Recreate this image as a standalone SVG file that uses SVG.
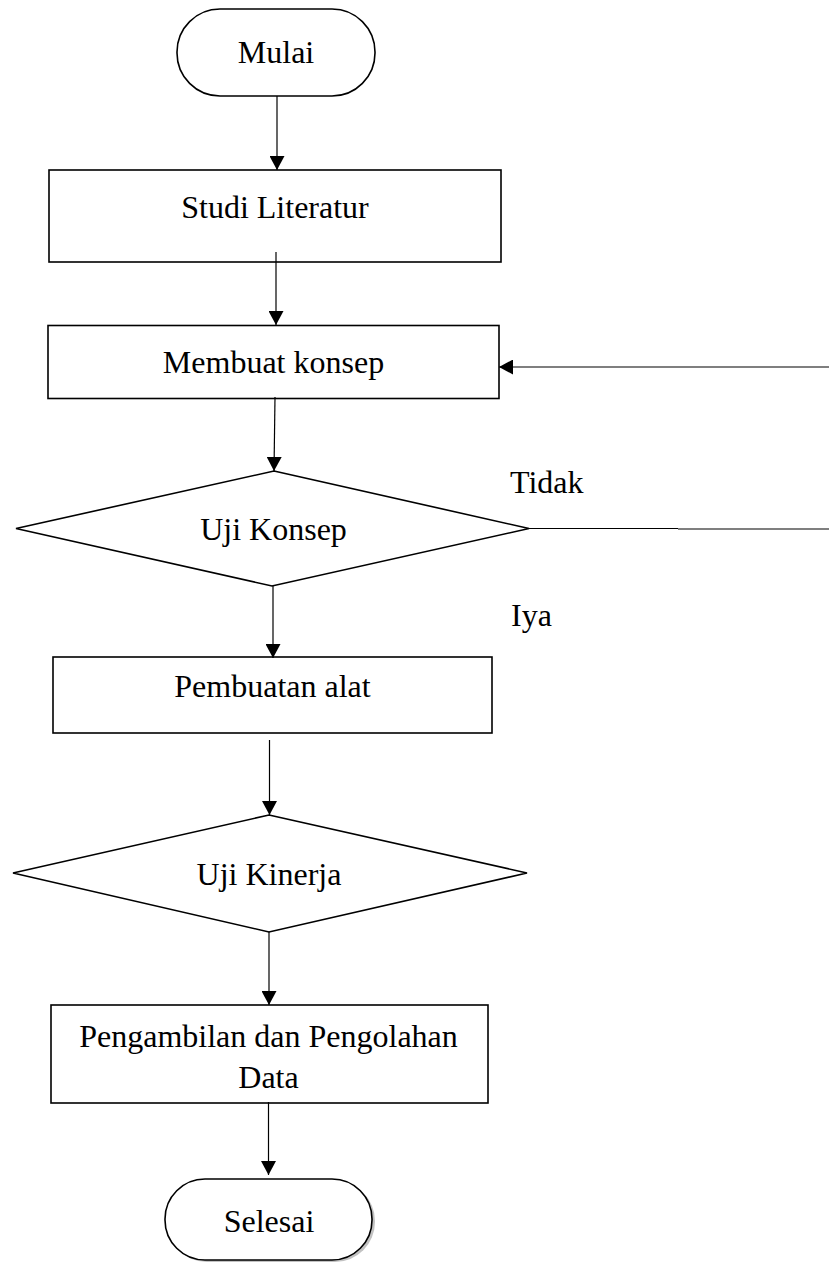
<svg xmlns="http://www.w3.org/2000/svg" width="829" height="1262" viewBox="0 0 829 1262">
<style>
.shape{fill:#fff;stroke:#000;stroke-width:1.6}
.lbl{font-family:"Liberation Serif","Times New Roman",serif;font-size:32px;fill:#000}
.c{text-anchor:middle}
.conn{stroke:#000;stroke-width:1.2;fill:none}
</style>
<defs>
<marker id="ah" markerUnits="userSpaceOnUse" markerWidth="15" markerHeight="15" refX="14" refY="7.5" orient="auto">
<path d="M0,0 L14,7.5 L0,15 z" fill="#000"/>
</marker>
</defs>
<rect width="829" height="1262" fill="#fff"/>
<g id="mulai">
<rect class="shape" x="177" y="9" width="198" height="87" rx="43" ry="43"/>
<text class="lbl c" x="276" y="63">Mulai</text>
</g>
<g id="studi">
<rect class="shape" x="49" y="170" width="452" height="92"/>
<text class="lbl c" x="275" y="218">Studi Literatur</text>
</g>
<g id="membuat">
<rect class="shape" x="48" y="325.5" width="451" height="73"/>
<text class="lbl c" x="273.5" y="373">Membuat konsep</text>
</g>
<g id="ujikonsep">
<polygon class="shape" points="274,471 529,528.5 272,586 16,528.5"/>
<text class="lbl c" x="273.5" y="540">Uji Konsep</text>
</g>
<g id="pembuatan">
<rect class="shape" x="53" y="657" width="439" height="76"/>
<text class="lbl c" x="272.5" y="697">Pembuatan alat</text>
</g>
<g id="ujikinerja">
<polygon class="shape" points="269,815 527,873 269,932 13,873"/>
<text class="lbl c" x="269" y="885">Uji Kinerja</text>
</g>
<g id="pengambilan">
<rect class="shape" x="51" y="1005" width="437" height="98"/>
<text class="lbl c" x="268.5" y="1047">Pengambilan dan Pengolahan</text>
<text class="lbl c" x="268.5" y="1088">Data</text>
</g>
<g id="selesai">
<rect x="167" y="1181" width="208" height="81" rx="40" ry="40" fill="#999" opacity="0.6"/>
<rect class="shape" x="165" y="1179" width="207" height="81" rx="40" ry="40"/>
<text class="lbl c" x="269" y="1232">Selesai</text>
</g>
<g id="connectors">
<line class="conn" x1="277" y1="96" x2="277" y2="170" marker-end="url(#ah)"/>
<line class="conn" x1="276" y1="252" x2="276" y2="325" marker-end="url(#ah)"/>
<line class="conn" x1="275" y1="397" x2="274" y2="471" marker-end="url(#ah)"/>
<line class="conn" x1="829" y1="367" x2="499" y2="367" marker-end="url(#ah)"/>
<line class="conn" x1="529" y1="528.5" x2="678" y2="528.5" stroke-width="1.6"/>
<line class="conn" x1="678" y1="529" x2="829" y2="529" stroke="#333" stroke-width="1.6"/>
<line class="conn" x1="273" y1="586" x2="273" y2="658" marker-end="url(#ah)"/>
<line class="conn" x1="269.5" y1="740" x2="269.5" y2="815" marker-end="url(#ah)"/>
<line class="conn" x1="269" y1="932" x2="269" y2="1005" marker-end="url(#ah)"/>
<line class="conn" x1="268.5" y1="1102" x2="268.5" y2="1175" marker-end="url(#ah)"/>
</g>
<g id="labels">
<text class="lbl" x="510" y="493">Tidak</text>
<text class="lbl" x="511" y="626">Iya</text>
</g>
</svg>
